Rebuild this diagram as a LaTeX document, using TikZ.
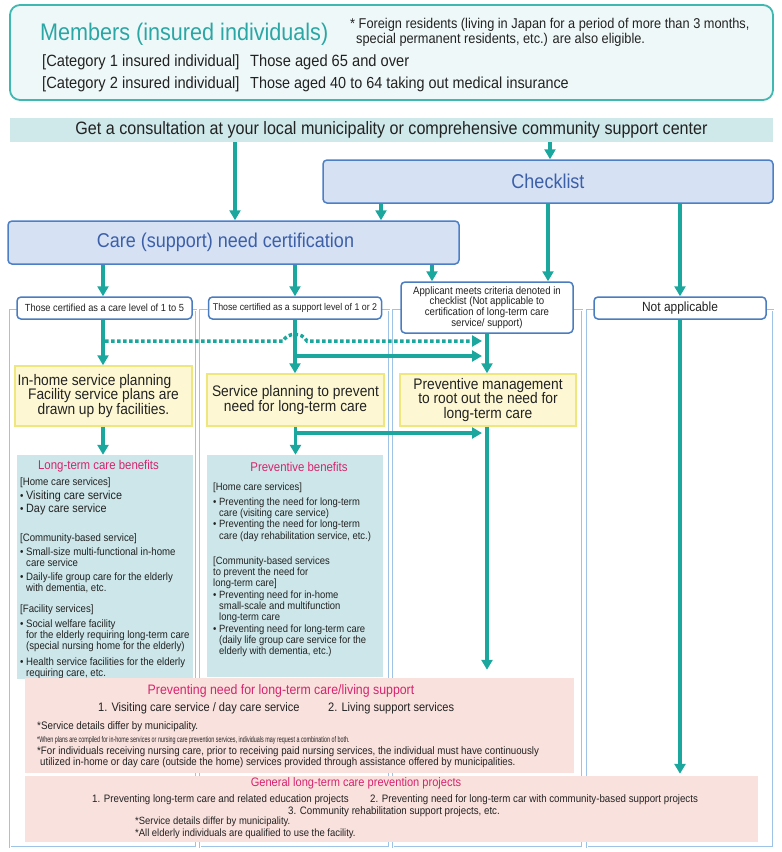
\documentclass[tikz,border=0pt]{standalone}
\usepackage{fontspec}
\setmainfont{Liberation Sans}[FakeStretch=0.9]
\newfontfamily\tinyfont{Liberation Sans}[FakeStretch=0.65]
\usetikzlibrary{arrows.meta,positioning}

\definecolor{arrteal}{HTML}{1BA79E}
\definecolor{memline}{HTML}{40B8B2}
\definecolor{memfill}{HTML}{EFF8F8}
\definecolor{memtitle}{HTML}{2AA7A5}
\definecolor{consfill}{HTML}{CFE8EA}
\definecolor{bluefill}{HTML}{D6E2F4}
\definecolor{blueline}{HTML}{4D7FC6}
\definecolor{bluetext}{HTML}{3C5FA8}
\definecolor{hdrline}{HTML}{4A7DC0}
\definecolor{colline}{HTML}{9DC3E6}
\definecolor{ylwfill}{HTML}{FDF8D3}
\definecolor{ylwline}{HTML}{EFE67E}
\definecolor{benfill}{HTML}{CCE6E9}
\definecolor{pinktext}{HTML}{D6246E}
\definecolor{pinkfill}{HTML}{F9E1DD}
\definecolor{txt}{HTML}{222222}

\newcommand{\fsz}[2]{\fontsize{#1}{#2}\selectfont}
\newcommand{\bul}{\makebox[6pt][l]{\textbullet}}
\newcommand{\cnt}{\hspace*{6pt}}

\begin{document}
\begin{tikzpicture}[x=1pt,y=-1pt,text=txt,inner sep=0pt,
    arr/.style={draw=arrteal,line width=3.5pt,-{Triangle[width=11pt,length=10pt]}},
    colframe/.style={draw=colline,double=white,double distance=1pt,line width=0.8pt},
    bluebox/.style={draw=blueline,fill=bluefill,line width=1.5pt,rounded corners=4pt,text=bluetext,font=\fsz{20}{22}},
    hdr/.style={draw=hdrline,fill=white,line width=1.5pt,rounded corners=4pt,align=center},
    ylw/.style={draw=ylwline,fill=ylwfill,line width=1.5pt,align=center,font=\fsz{15.3}{14.5}},
    ben/.style={fill=benfill},
    pink/.style={fill=pinkfill}]
    \useasboundingbox (0,0) rectangle (782,852);

    % members
    \node[draw=memline,fill=memfill,line width=1.8pt,rounded corners=10pt,minimum width=763pt,minimum height=95pt] (mem) at (391.5,52.5) {};
    \node[anchor=west,text=memtitle,font=\fsz{24}{26}] (memhd) at (40,34) {Members (insured individuals)};
    \node[anchor=west,align=left,font=\fsz{14.2}{15}] (memnote) at (350,32.5) {* Foreign residents (living in Japan for a period of more than 3 months,\\\hspace*{6pt}special permanent residents, etc.) are also eligible.};
    \node[anchor=west,font=\fsz{16.3}{18}] (cat1) at (42,62) {[Category 1 insured individual]};
    \node[anchor=west,font=\fsz{16.3}{18}] (age1) at (250,62) {Those aged 65 and over};
    \node[anchor=west,font=\fsz{16.3}{18}] (cat2) at (42,84) {[Category 2 insured individual]};
    \node[anchor=west,font=\fsz{16}{18}] (age2) at (250,84) {Those aged 40 to 64 taking out medical insurance};

    \node[fill=consfill,minimum width=763pt,minimum height=24pt,font=\fsz{17.9}{19}] (cons) at (391.5,130) {Get a consultation at your local municipality or comprehensive community support center};
    \node[bluebox,minimum width=450pt,minimum height=43pt] (chk) at (548,181.5) {Checklist};
    \node[bluebox,minimum width=451pt,minimum height=43pt] (cert) at (233.5,242.5) {\hspace*{-16pt}Care (support) need certification};

    % column frames
    \draw[colframe] (10,310) rectangle (196,847);
    \draw[colframe] (200,310) rectangle (389,847);
    \draw[colframe] (393,310) rectangle (582,847);
    \draw[colframe] (587,310) rectangle (773,847);

    \node[hdr,minimum width=175pt,minimum height=22pt,font=\fsz{10.3}{11}] (hd1) at (104.5,308) {Those certified as a care level of 1 to 5};
    \node[hdr,minimum width=173pt,minimum height=22pt,font=\fsz{9.8}{11}] (hd2) at (295,308) {Those certified as a support level of 1 or 2};
    \node[hdr,minimum width=172pt,minimum height=51pt,font=\fsz{10.7}{10.7}] (hd3) at (487,307.5) {Applicant meets criteria denoted in\\checklist (Not applicable to\\certification of long-term care\\service/ support)};
    \node[hdr,minimum width=172pt,minimum height=22pt,font=\fsz{13.3}{14}] (hd4) at (680,308) {Not applicable};

    \node[ylw,minimum width=177pt,minimum height=60pt] (yl1) at (103.5,396) {\makebox[172pt][l]{In-home service planning}\\Facility service plans are\\drawn up by facilities.};
    \node[ylw,minimum width=177pt,minimum height=52pt] (yl2) at (295.5,400) {Service planning to prevent\\need for long-term care};
    \node[ylw,minimum width=176pt,minimum height=52pt] (yl3) at (488,400) {Preventive management\\to root out the need for\\long-term care};

    % benefits
    \node[ben,minimum width=176pt,minimum height=224pt] (ben1) at (105,567) {};
    \node[ben,minimum width=176pt,minimum height=222pt] (ben2) at (295,566) {};
    \node[text=pinktext,font=\fsz{12.7}{14}] (ben1hd) at (98.5,466) {Long-term care benefits};
    \node[anchor=north west,align=left,font=\fsz{10.7}{11}] (ben1txt) at (20,478) {[Home care services]\\[3pt]
      \bul{\fsz{12}{11}Visiting care service}\\
      \bul{\fsz{12}{11}Day care service}\\[18pt]
      [Community-based service]\\[3pt]
      \bul Small-size multi-functional in-home\\
      \cnt care service\\[3pt]
      \bul Daily-life group care for the elderly\\
      \cnt with dementia, etc.\\[10pt]
      [Facility services]\\[4pt]
      \bul Social welfare facility\\
      \cnt for the elderly requiring long-term care\\
      \cnt (special nursing home for the elderly)\\[5pt]
      \bul Health service facilities for the elderly\\
      \cnt requiring care, etc.};
    \node[text=pinktext,font=\fsz{12.7}{14}] (ben2hd) at (299,467) {Preventive benefits};
    \node[anchor=north west,align=left,font=\fsz{10.5}{11.3}] (ben2txt) at (213,482.5) {[Home care services]\\[3.5pt]
      \bul Preventing the need for long-term\\
      \cnt care (visiting care service)\\
      \bul Preventing the need for long-term\\
      \cnt care (day rehabilitation service, etc.)\\[14pt]
      [Community-based services\\
      to prevent the need for\\
      long-term care]\\
      \bul Preventing need for in-home\\
      \cnt small-scale and multifunction\\
      \cnt long-term care\\
      \bul Preventing need for long-term care\\
      \cnt (daily life group care service for the\\
      \cnt elderly with dementia, etc.)};

    % prevention projects
    \node[pink,minimum width=549pt,minimum height=95pt] (pk1) at (299.5,725.5) {};
    \node[text=pinktext,font=\fsz{13.7}{15}] (pk1hd) at (281,691) {Preventing need for long-term care/living support};
    \node[anchor=west,font=\fsz{12.3}{14}] (pk1a) at (98,708) {1. Visiting care service / day care service};
    \node[anchor=west,font=\fsz{12.3}{14}] (pk1b) at (328,708) {2. Living support services};
    \node[anchor=west,font=\fsz{10.9}{12}] (pk1n1) at (37,727) {*Service details differ by municipality.};
    \node[anchor=west,font=\tinyfont\fsz{8.3}{9}] (pk1n2) at (37,740) {*When plans are compiled for in-home services or nursing care prevention services, individuals may request a combination of both.};
    \node[anchor=west,align=left,font=\fsz{10.8}{11}] (pk1n3) at (37,757.5) {*For individuals receiving nursing care, prior to receiving paid nursing services, the individual must have continuously\\\hspace*{3pt}utilized in-home or day care (outside the home) services provided through assistance offered by municipalities.};

    \node[pink,minimum width=733pt,minimum height=66pt] (pk2) at (391.5,809) {};
    \node[text=pinktext,font=\fsz{12.3}{14}] (pk2hd) at (356,783) {General long-term care prevention projects};
    \node[anchor=west,font=\fsz{10.8}{12}] (pk2a) at (92,800) {1. Preventing long-term care and related education projects};
    \node[anchor=west,font=\fsz{10.8}{12}] (pk2b) at (370,800) {2. Preventing need for long-term car with community-based support projects};
    \node[font=\fsz{10.8}{12}] (pk2c) at (394,812) {3. Community rehabilitation support projects, etc.};
    \node[anchor=west,font=\fsz{10.5}{12}] (pk2n1) at (135,822) {*Service details differ by municipality.};
    \node[anchor=west,font=\fsz{10.5}{12}] (pk2n2) at (135,834) {*All elderly individuals are qualified to use the facility.};

    % arrows
    \draw[arr] (cons.south -| 235,0) -- (cert.north -| 235,0);
    \draw[arr] (cons.south -| 550,0) -- (chk.north -| 550,0);
    \draw[arr] (chk.south -| 381,0) -- (cert.north -| 381,0);
    \draw[arr] (chk.south -| 548,0) -- (hd3.north -| 548,0);
    \draw[arr] (chk.south -| hd4) -- (hd4.north);
    \draw[arr] (cert.south -| 103,0) -- (hd1.north -| 103,0);
    \draw[arr] (cert.south -| hd2) -- (hd2.north);
    \draw[arr] (cert.south -| 432,0) -- (hd3.north -| 432,0);
    \draw[arr] (hd1.south -| 103,0) -- (yl1.north -| 103,0);
    \coordinate (dotA) at (105,341);
    \draw[arr,dash pattern=on 3.5pt off 2.5pt,shorten >=5pt] (dotA) -- (283,341) .. controls (288,332) and (302,332) .. (307,341) -- (hd3.south |- dotA);
    \draw[arr] (hd2.south) -- (hd2.south |- yl2.north);
    \draw[arr,shorten >=5pt] (hd2.south |- 0,356) -- (hd3.south |- 0,356);
    \draw[arr,shorten >=5pt] (yl2.south |- 0,433) -- (hd3.south |- 0,433);
    \draw[arr] (yl1.south -| 103,0) -- (ben1.north -| 103,0);
    \draw[arr] (yl2.south) -- (yl2.south |- ben2.north);
    \draw[arr] (hd3.south) -- (hd3.south |- yl3.north);
    \draw[arr,shorten >=8pt] (yl3.south -| hd3.south) -- (hd3.south |- pk1.north);
    \draw[arr,shorten >=2pt] (hd4.south) -- (hd4.south |- pk2.north);
\end{tikzpicture}
\end{document}
